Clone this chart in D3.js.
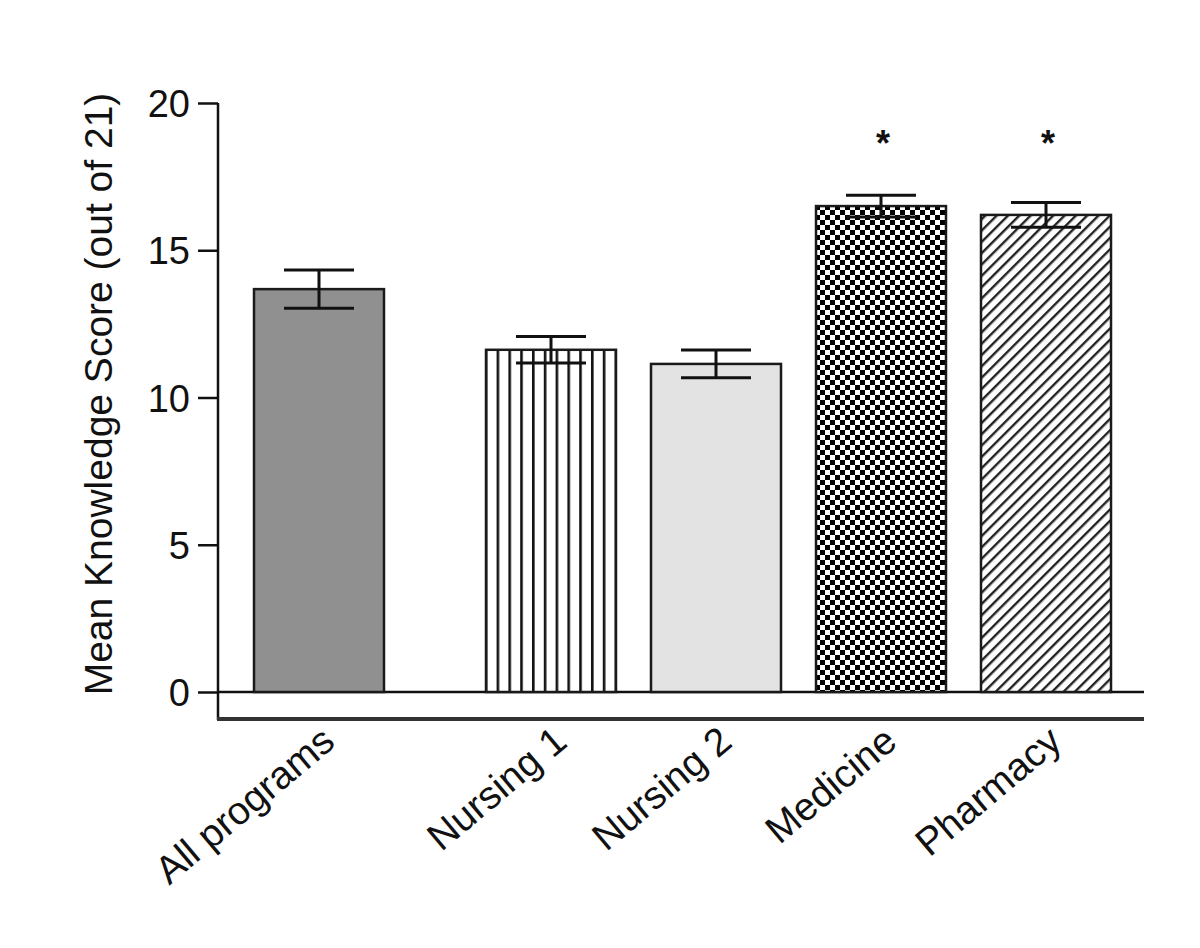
<!DOCTYPE html>
<html><head><meta charset="utf-8">
<script src="https://cdn.jsdelivr.net/npm/d3@7"></script>
<style>body{margin:0;background:#fff;} svg{display:block;}</style>
</head><body>
<script>
const categories = ["All programs","Nursing 1","Nursing 2","Medicine","Pharmacy"];
const means = [13.68, 11.62, 11.14, 16.5, 16.2];
const sems = [0.65, 0.45, 0.47, 0.37, 0.42];
const significant = [false, false, false, true, true];
const yTicks = [0, 5, 10, 15, 20];
const yTitle = "Mean Knowledge Score (out of 21)";

const W = 1200, H = 948;
const FONT = "Liberation Sans, Arial, sans-serif";
const svg = d3.select("body").append("svg").attr("width", W).attr("height", H);
const defs = svg.append("defs");

// patterns
const pVert = defs.append("pattern").attr("id","pv").attr("patternUnits","userSpaceOnUse").attr("width",11.8).attr("height",10);
pVert.append("rect").attr("width",11.8).attr("height",10).attr("fill","#fff");
pVert.append("rect").attr("x",1).attr("width",2.6).attr("height",10).attr("fill","#111");

const pChk = defs.append("pattern").attr("id","pc").attr("patternUnits","userSpaceOnUse").attr("width",10).attr("height",10);
pChk.append("rect").attr("width",10).attr("height",10).attr("fill","#fff");
pChk.append("rect").attr("width",5).attr("height",5).attr("fill","#000");
pChk.append("rect").attr("x",5).attr("y",5).attr("width",5).attr("height",5).attr("fill","#000");

const pDiag = defs.append("pattern").attr("id","pd").attr("patternUnits","userSpaceOnUse").attr("width",8).attr("height",8).attr("patternTransform","rotate(45)");
pDiag.append("rect").attr("width",8).attr("height",8).attr("fill","#fff");
pDiag.append("rect").attr("width",2.4).attr("height",8).attr("fill","#222");

const fills = ["#909090","url(#pv)","#e3e3e3","url(#pc)","url(#pd)"];

const y = d3.scaleLinear().domain([0,20]).range([692,103]);
const x = d3.scaleBand().domain(categories).range([321, 1111]).paddingInner(35/165).paddingOuter(0);
const firstShift = -67; // extra gap after first bar
const bx = (c,i) => x(c) + (i===0 ? firstShift : 0);
const bw = x.bandwidth();

// axis
const axisX = 218;
svg.append("line").attr("x1",axisX).attr("x2",axisX).attr("y1",y(20)).attr("y2",720).attr("stroke","#111").attr("stroke-width",2.5);
const yAxis = d3.axisLeft(y).tickValues(yTicks).tickSize(20).tickPadding(8);
const gy = svg.append("g").attr("transform",`translate(${axisX},0)`).call(yAxis);
gy.select(".domain").remove();
gy.selectAll(".tick line").attr("stroke","#111").attr("stroke-width",2.5);
gy.selectAll(".tick text").attr("font-family",FONT).attr("font-size",38).attr("fill","#111").attr("dy","0.36em");

// baseline & bottom axis
svg.append("line").attr("x1",axisX).attr("x2",1144).attr("y1",y(0)).attr("y2",y(0)).attr("stroke","#111").attr("stroke-width",2.5);
svg.append("line").attr("x1",axisX-1).attr("x2",1144).attr("y1",719).attr("y2",719).attr("stroke","#333").attr("stroke-width",4);

// bars
const g = svg.append("g");
categories.forEach((c,i)=>{
  g.append("rect").attr("x",bx(c,i)).attr("y",y(means[i])).attr("width",bw).attr("height",y(0)-y(means[i]))
    .attr("fill",fills[i]).attr("stroke","#1a1a1a").attr("stroke-width",2.5);
  const cx = bx(c,i) + bw/2;
  const eg = svg.append("g").attr("stroke","#111").attr("stroke-width",3);
  eg.append("line").attr("x1",cx).attr("x2",cx).attr("y1",y(means[i]+sems[i])).attr("y2",y(means[i]-sems[i]));
  eg.append("line").attr("x1",cx-35).attr("x2",cx+35).attr("y1",y(means[i]+sems[i])).attr("y2",y(means[i]+sems[i]));
  eg.append("line").attr("x1",cx-35).attr("x2",cx+35).attr("y1",y(means[i]-sems[i])).attr("y2",y(means[i]-sems[i]));
  if (significant[i]) {
    svg.append("text").attr("x",cx+2).attr("y",156).attr("text-anchor","middle")
      .attr("font-family",FONT).attr("font-weight","bold").attr("font-size",36).attr("fill","#111").text("*");
  }
  svg.append("text").attr("transform",`translate(${cx+18},745) rotate(-40)`).attr("text-anchor","end")
    .attr("font-family",FONT).attr("font-size",39).attr("fill","#111").text(c);
});

// y title
svg.append("text").attr("transform",`translate(112,${(88+700)/2}) rotate(-90)`).attr("text-anchor","middle")
  .attr("font-family",FONT).attr("font-size",39).attr("fill","#111").text(yTitle);
</script>
</body></html>
